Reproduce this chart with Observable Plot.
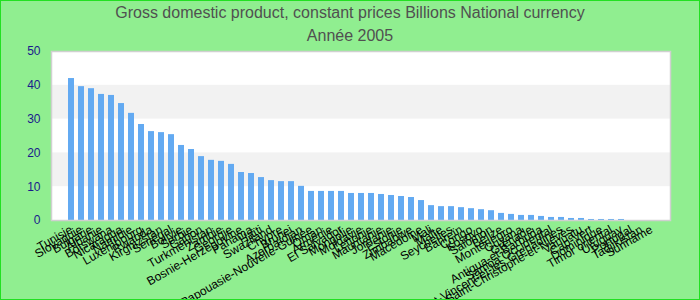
<!DOCTYPE html>
<html><head><meta charset="utf-8">
<script src="https://cdn.jsdelivr.net/npm/d3@7"></script>
<script src="https://cdn.jsdelivr.net/npm/@observablehq/plot@0.6"></script>
<style>
body{margin:0;}
#wrap{position:relative;width:700px;height:300px;background:#90ee90;overflow:hidden;font-family:"Liberation Sans",Arial,sans-serif;}
#border{position:absolute;left:0;top:0;width:700px;height:300px;box-sizing:border-box;border:1px solid #22e022;pointer-events:none;}
.title{position:absolute;left:0;width:700px;text-align:center;font-size:16px;color:#505050;line-height:20px;}
#chart{position:absolute;left:0;top:0;}
</style></head>
<body>
<div id="wrap"><div id="chart"></div>
<div class="title" style="top:3px">Gross domestic product, constant prices Billions National currency</div>
<div class="title" style="top:26px">Année 2005</div>
<div id="border"></div></div>
<script>
const countries = ["Tunisie","Slovaquie","Bulgarie","Albanie","Botswana","Nicaragua","Namibie","Luxembourg","Rwanda","Kirghizstan","Sénégal","Bolivie","Serbie","Gabon","Turkménistan","Zambie","Géorgie","Bosnie-Herzégovine","Panama","Haïti","Swaziland","Chypre","Brunei","Azerbaïdjan","Papouasie-Nouvelle-Guinée","Oman","Arménie","El Salvador","Mongolie","Moldavie","Lettonie","Mauritanie","Jordanie","Estonie","Zimbabwe","Macédoine","Mali","Malte","Seychelles","Bahreïn","Congo","Kosovo","Salomon","Belize","Monténégro","Guyana","Grenade","Antigua-et-Barbuda","Samoa Occidental","Saint-Vincent-et-les Grenadines","Saint-Christophe-et-Niévès","Vanuatu","Cap-Vert","Dominique","Timor oriental","Uruguay","Portugal","Tadjikistan","Suriname"];
const values = [42.0,39.6,39.0,37.3,37.0,34.6,31.7,28.4,26.3,26.0,25.4,22.2,21.0,18.9,17.8,17.5,16.6,14.2,13.9,12.7,11.8,11.5,11.5,10.1,8.6,8.6,8.6,8.6,8.0,8.0,8.0,7.7,7.4,7.1,6.8,5.9,4.4,4.1,4.1,3.8,3.5,3.2,2.9,2.1,1.8,1.5,1.5,1.2,0.9,0.9,0.6,0.6,0.3,0.3,0.3,0.3,0.0,0.0,0.0];
const yTicks = [0,10,20,30,40,50];
const bandLo = [10,30];
const bandHi = [20,40];

const data = countries.map((c,i)=>({name:c, value:values[i]}));
const bands = bandLo.map((lo,i)=>({lo, hi:bandHi[i]}));

const chart = Plot.plot({
  width:700, height:300,
  marginTop:51, marginBottom:80, marginLeft:51, marginRight:30,
  style:{background:"transparent", fontFamily:"'Liberation Sans', Arial, sans-serif", fontSize:"12px", color:"black"},
  x:{domain:countries, paddingInner:0.4, paddingOuter:0.2, tickRotate:-30, tickSize:0, tickPadding:8, label:null},
  y:{domain:[0,50], ticks:yTicks, tickSize:0, tickPadding:11, label:null},
  marks:[
    Plot.frame({fill:"white"}),
    Plot.rect(bands,{y1:"lo", y2:"hi", fill:"#f2f2f2"}),
    Plot.barY(data,{x:"name", y:"value", fill:"#63aaf2"}),
    Plot.frame({stroke:"#d0d0d0", strokeWidth:1.5})
  ]
});
document.getElementById("chart").appendChild(chart);
chart.querySelectorAll('[aria-label^="y-axis"]').forEach(g=>{
  g.style.color="#1a1a8c"; g.setAttribute("fill","#1a1a8c"); g.style.fontSize="12px";
});
</script>
</body></html>
